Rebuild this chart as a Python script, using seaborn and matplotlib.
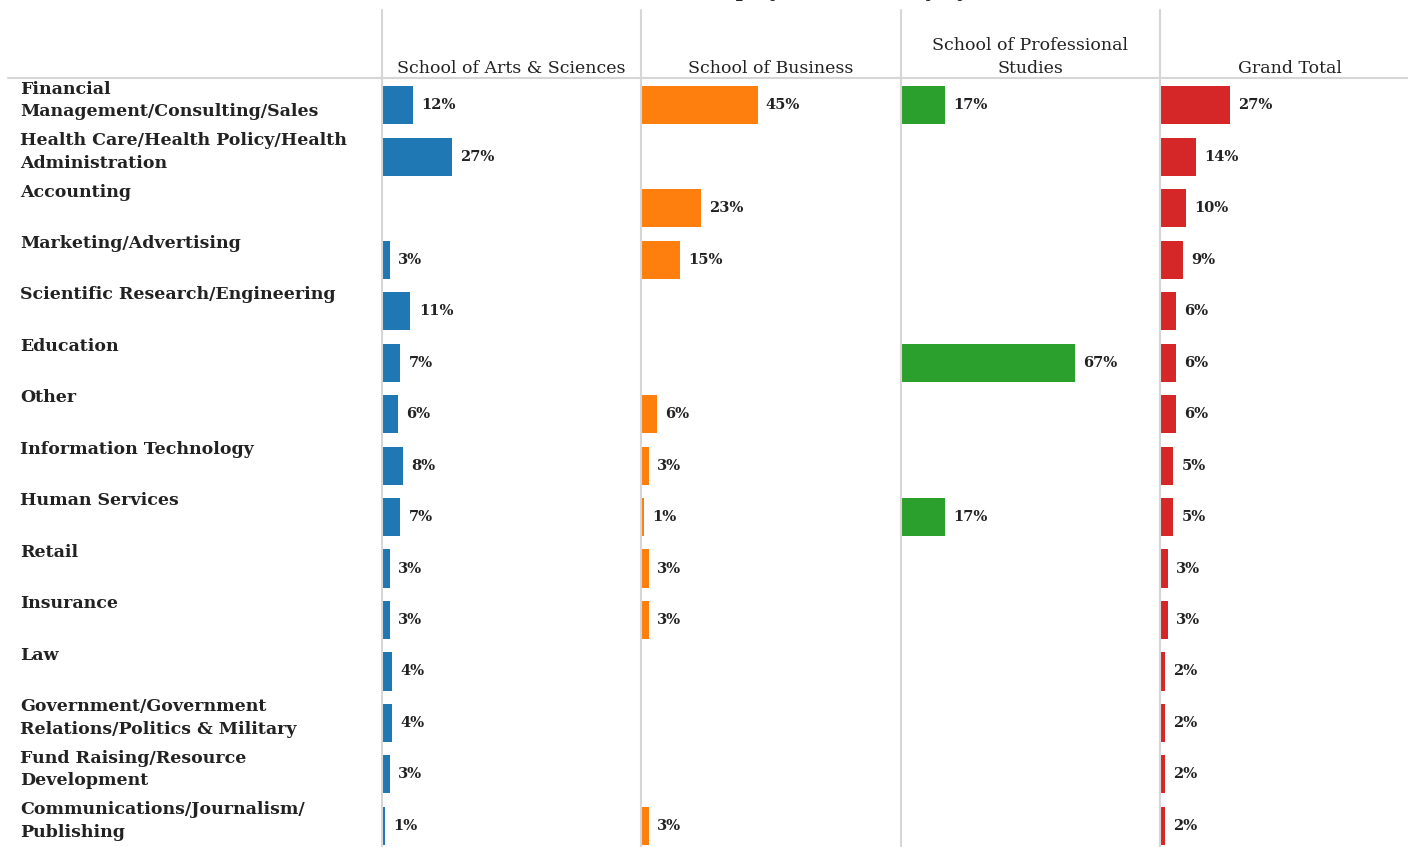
import pandas as pd
import numpy as np
import matplotlib
matplotlib.use('Agg')
import matplotlib.pyplot as plt
import matplotlib.transforms as mtransforms
from matplotlib.lines import Line2D
import seaborn as sns

# Data (percent of students per industry)
industries = [
    'Financial\nManagement/Consulting/Sales',
    'Health Care/Health Policy/Health\nAdministration',
    'Accounting',
    'Marketing/Advertising',
    'Scientific Research/Engineering',
    'Education',
    'Other',
    'Information Technology',
    'Human Services',
    'Retail',
    'Insurance',
    'Law',
    'Government/Government\nRelations/Politics & Military',
    'Fund Raising/Resource\nDevelopment',
    'Communications/Journalism/\nPublishing',
]
schools = ['School of Arts & Sciences', 'School of Business',
           'School of Professional\nStudies', 'Grand Total']
arts = [12, 27, np.nan, 3, 11, 7, 6, 8, 7, 3, 3, 4, 4, 3, 1]
business = [45, np.nan, 23, 15, np.nan, np.nan, 6, 3, 1, 3, 3, np.nan, np.nan, np.nan, 3]
professional = [17, np.nan, np.nan, np.nan, np.nan, 67, np.nan, np.nan, 17,
                np.nan, np.nan, np.nan, np.nan, np.nan, np.nan]
grand_total = [27, 14, 10, 9, 6, 6, 6, 5, 5, 3, 3, 2, 2, 2, 2]
colors = ['#1f77b4', '#ff7f0e', '#2ca02c', '#d62728']

df = pd.DataFrame({'industry': industries, schools[0]: arts, schools[1]: business,
                   schools[2]: professional, schools[3]: grand_total})

sns.set_style('white')
plt.rcParams['font.family'] = ['DejaVu Serif']

W, H = 1408, 847
fig = plt.figure(figsize=(W / 100, H / 100), dpi=100)

panel_left = [382, 641, 901, 1160]
panel_w = 259
top_px = 78
grid_c = '#d6d6d6'

axes = []
for i, school in enumerate(schools):
    ax = fig.add_axes([panel_left[i] / W, 0, panel_w / W, (H - top_px) / H])
    sub = df[['industry', school]].dropna()
    sns.barplot(data=sub, x=school, y='industry', order=industries, color=colors[i],
                width=0.74, orient='h', ax=ax, saturation=1, linewidth=0)
    ax.set_xlim(0, 100)
    ax.set_ylim(14.41, -0.53)
    ax.set_xlabel('')
    ax.set_ylabel('')
    ax.set_xticks([])
    ax.set_yticks([])
    for s in ax.spines.values():
        s.set_visible(False)
    for c in ax.containers:
        ax.bar_label(c, labels=[f'{v:.0f}%' for v in c.datavalues], padding=6,
                     fontsize=10.5, fontweight='bold', color='#222222')
    # column header
    hdr_y = (H - top_px + 1) / H
    fig.text((panel_left[i] + panel_w / 2) / W, hdr_y, school, ha='center', va='bottom',
             fontsize=12.5, color='#222222', linespacing=1.5)
    axes.append(ax)

# left row labels
ax0 = axes[0]
trans = mtransforms.blended_transform_factory(fig.transFigure, ax0.transData)
for j, name in enumerate(industries):
    ax0.text(20 / W, j - 0.48, name, transform=trans, ha='left', va='top',
             fontsize=12.5, fontweight='bold', color='#222222', linespacing=1.42,
             clip_on=False)

# grid lines
for x in panel_left:
    fig.add_artist(Line2D([x / W, x / W], [0, (H - 10) / H], color=grid_c, lw=1.5))
fig.add_artist(Line2D([8 / W, 1], [(H - top_px) / H] * 2, color=grid_c, lw=1.5))

# title (clipped at the top edge in the reference)
fig.text(700 / W, (H + 3) / H, 'Employment Industry by School', ha='left',
         va='baseline', fontsize=14, fontweight='bold', color='#222222')

fig.savefig('out.png', dpi=100)
